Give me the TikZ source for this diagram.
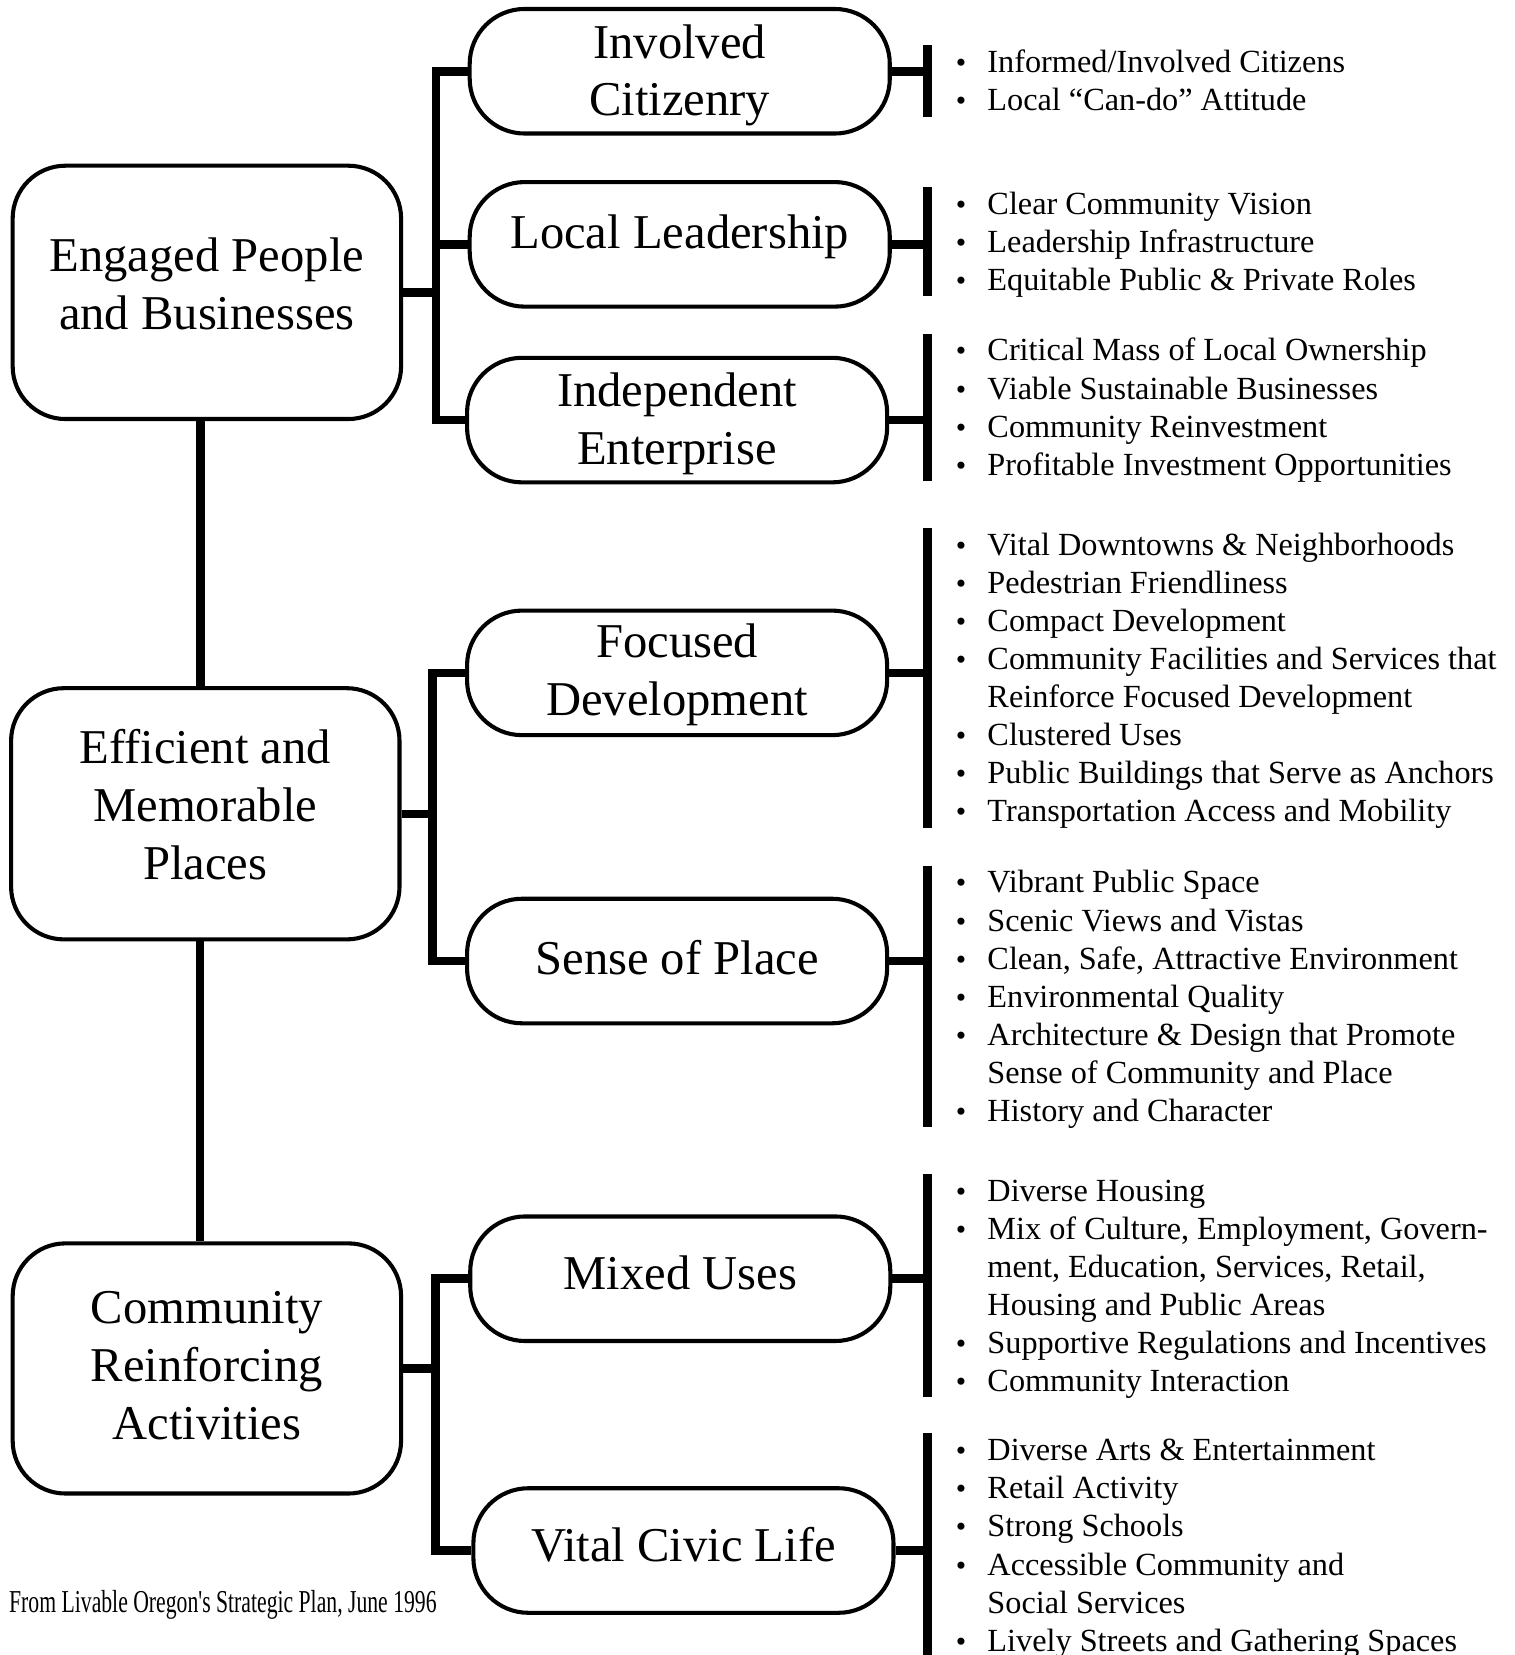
\documentclass[tikz,border=0pt]{standalone}
\usepackage{fontspec}
\setmainfont{Liberation Serif}
\newfontfamily\captionfont[FakeStretch=0.68]{Liberation Serif}
\usepackage{tikz}
\usetikzlibrary{positioning, calc}
\newcommand{\itemdot}{{\fontsize{8}{8}\selectfont\textbullet}}

\begin{document}
\begin{tikzpicture}[
    bigbox/.style={draw, rectangle, rounded corners=0.5cm, line width=1.1pt, minimum width=3.68cm, minimum height=2.38cm, align=center, font=\fontsize{13.1}{15.6}\selectfont},
    pill/.style={draw, rectangle, rounded corners=0.52cm, line width=1.1pt, minimum width=3.98cm, minimum height=1.18cm, inner sep=0pt, align=center, font=\fontsize{13.1}{15.6}\selectfont},
    itemlist/.style={anchor=north west, inner xsep=0.26cm, inner ysep=0pt, font=\fontsize{8.7}{10.27}\selectfont},
    thickline/.style={line width=2.3pt},
    sidebar/.style={line width=2.4pt}
]
\useasboundingbox (0,0) rectangle (14.35,-15.68);

\node (engaged) [bigbox, minimum height=2.40cm, text depth=0.16cm] at (1.96,-2.77) {Engaged People\\and Businesses};
\node (efficient) [bigbox, text depth=0.18cm] at (1.945,-7.71) {Efficient and\\Memorable\\Places};
\node (community) [bigbox, minimum height=2.37cm, text depth=0.06cm] at (1.96,-12.965) {Community\\Reinforcing\\Activities};

\node (citizenry) [pill, text depth=0.02cm] at (6.44,-0.675) {Involved\\Citizenry};
\node (leadership) [pill, text depth=0.24cm] at (6.44,-2.315) {Local Leadership};
\node (enterprise) [pill, text depth=0.03cm] at (6.415,-3.98) {Independent\\Enterprise};
\node (focused) [pill, text depth=0.06cm] at (6.415,-6.375) {Focused\\Development};
\node (sense) [pill, text depth=0.06cm] at (6.415,-9.105) {Sense of Place};
\node (mixed) [pill, text depth=0.12cm] at (6.445,-12.115) {Mixed Uses};
\node (civic) [pill, text depth=0.12cm] at (6.475,-14.69) {Vital Civic Life};

\node (citizenrylist) [itemlist] at (8.79,-0.43) {\begin{tabular}{@{}l@{\hspace{0.2cm}}l@{}}
\itemdot & Informed/Involved Citizens\\
\itemdot & Local “Can-do” Attitude
\end{tabular}};
\node (leadershiplist) [itemlist] at (8.79,-1.77) {\begin{tabular}{@{}l@{\hspace{0.2cm}}l@{}}
\itemdot & Clear Community Vision\\
\itemdot & Leadership Infrastructure\\
\itemdot & Equitable Public \& Private Roles
\end{tabular}};
\node (enterpriselist) [itemlist] at (8.79,-3.16) {\begin{tabular}{@{}l@{\hspace{0.2cm}}l@{}}
\itemdot & Critical Mass of Local Ownership\\
\itemdot & Viable Sustainable Businesses\\
\itemdot & Community Reinvestment\\
\itemdot & Profitable Investment Opportunities
\end{tabular}};
\node (focusedlist) [itemlist] at (8.79,-5.00) {\begin{tabular}{@{}l@{\hspace{0.2cm}}l@{}}
\itemdot & Vital Downtowns \& Neighborhoods\\
\itemdot & Pedestrian Friendliness\\
\itemdot & Compact Development\\
\itemdot & Community Facilities and Services that\\
 & Reinforce Focused Development\\
\itemdot & Clustered Uses\\
\itemdot & Public Buildings that Serve as Anchors\\
\itemdot & Transportation Access and Mobility
\end{tabular}};
\node (senselist) [itemlist] at (8.79,-8.20) {\begin{tabular}{@{}l@{\hspace{0.2cm}}l@{}}
\itemdot & Vibrant Public Space\\
\itemdot & Scenic Views and Vistas\\
\itemdot & Clean, Safe, Attractive Environment\\
\itemdot & Environmental Quality\\
\itemdot & Architecture \& Design that Promote\\
 & Sense of Community and Place\\
\itemdot & History and Character
\end{tabular}};
\node (mixedlist) [itemlist] at (8.79,-11.12) {\begin{tabular}{@{}l@{\hspace{0.2cm}}l@{}}
\itemdot & Diverse Housing\\
\itemdot & Mix of Culture, Employment, Govern-\\
 & ment, Education, Services, Retail,\\
 & Housing and Public Areas\\
\itemdot & Supportive Regulations and Incentives\\
\itemdot & Community Interaction
\end{tabular}};
\node (civiclist) [itemlist] at (8.79,-13.58) {\begin{tabular}{@{}l@{\hspace{0.2cm}}l@{}}
\itemdot & Diverse Arts \& Entertainment\\
\itemdot & Retail Activity\\
\itemdot & Strong Schools\\
\itemdot & Accessible Community and\\
 & Social Services\\
\itemdot & Lively Streets and Gathering Spaces
\end{tabular}};

\node (source) [anchor=base west, font=\captionfont\fontsize{8.6}{10}\selectfont, inner sep=0pt] at (0.08,-15.28) {From Livable Oregon's Strategic Plan, June 1996};

\draw [thickline] ([xshift=-0.06cm]engaged.south) -- ([xshift=-0.06cm]engaged.south |- efficient.north);
\draw [thickline] ([xshift=-0.05cm]efficient.south) -- ([xshift=-0.05cm]efficient.south |- community.north);

\coordinate (bus1) at ($(citizenry.west)+(-0.30,0)$);
\coordinate (bus2) at ($(focused.west)+(-0.31,0)$);
\coordinate (bus3) at ($(mixed.west)+(-0.31,0)$);

\draw [thickline] (citizenry.west) -- (bus1) |- (enterprise.west);
\draw [thickline] (leadership.west) -- (leadership.west -| bus1);
\draw [thickline] (engaged) -- (engaged -| bus1);
\draw [thickline] (focused.west) -- (bus2) |- (sense.west);
\draw [thickline] (efficient) -- (efficient -| bus2);
\draw [thickline] (mixed.west) -- (bus3) |- (civic.west);
\draw [thickline] (community) -- (community -| bus3);

\foreach \n in {citizenry, leadership, enterprise, focused, sense, mixed, civic} {
    \draw [sidebar] (\n list.north west) -- ([yshift=0.06cm]\n list.south west);
    \draw [thickline] (\n.east) -- (\n.east -| \n list.west);
}
\end{tikzpicture}
\end{document}
